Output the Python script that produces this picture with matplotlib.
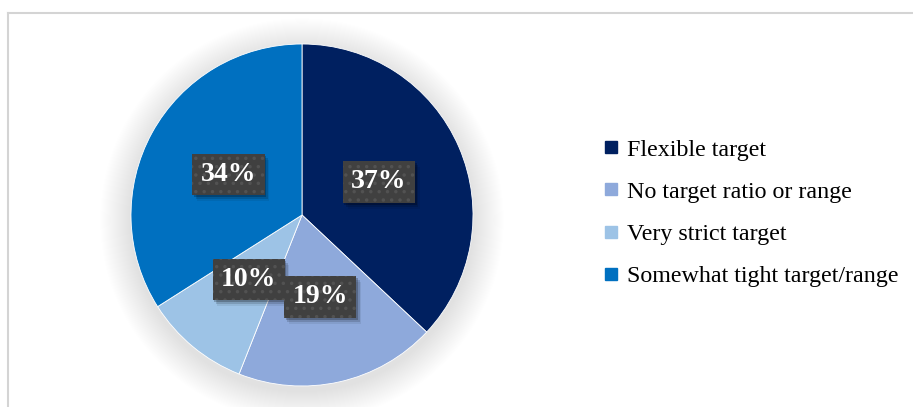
import matplotlib
matplotlib.use("Agg")
import numpy as np
import matplotlib.pyplot as plt
from matplotlib.lines import Line2D
from matplotlib.patches import Circle, Rectangle
from matplotlib.transforms import IdentityTransform

# survey shares of target types
labels = ["Flexible target", "No target ratio or range", "Very strict target",
          "Somewhat tight target/range"]
shares = [37, 19, 10, 34]
colors = ["#002060", "#8EA9DB", "#9DC3E6", "#0070C0"]

plt.rcParams["font.family"] = ["Liberation Serif", "DejaVu Serif"]
plt.rcParams["hatch.linewidth"] = 1.3

W, H = 913, 407
fig = plt.figure(figsize=(W / 100, H / 100), dpi=100)

# thin grey frame on the top and left edges
fig.add_artist(Line2D([8 / W, 1], [1 - 13 / H, 1 - 13 / H], color="#d4d4d4", lw=1.5))
fig.add_artist(Line2D([8 / W, 8 / W], [0, 1 - 13 / H], color="#d4d4d4", lw=1.5))

# pie axes: radius 171 px centred at (302, 215)
R = 171
cx, cy = 302, H - 215
lim = 1.3
side = 2 * R * lim
ax = fig.add_axes([(cx - side / 2) / W, (cy - side / 2) / H, side / W, side / H])

wedges, _ = ax.pie(shares, colors=colors, startangle=90, counterclock=False,
                   radius=1.0, wedgeprops=dict(linewidth=0.6, edgecolor="white"))
for w in wedges:
    w.set_zorder(2)
ax.set_xlim(-lim, lim)
ax.set_ylim(-lim, lim)
ax.set_aspect("equal")
ax.axis("off")

# soft glow behind the pie
n = 30
for i in range(n):
    r = 1.0 + 0.18 * (i + 1) / n
    ax.add_patch(Circle((0.0, -0.03), r, color="black", alpha=0.0045, lw=0, zorder=0))

# percentage labels in dark boxes
texts = []
ang = 90.0
for s in shares:
    span = s / sum(shares) * 360
    mid = np.deg2rad(ang - span / 2)
    ang -= span
    x, y = 0.49 * np.cos(mid), 0.49 * np.sin(mid)
    t = ax.text(x, y, f"{s}%", ha="center", va="center", color="white",
                fontsize=20, fontweight="bold", zorder=5,
                bbox=dict(boxstyle="square,pad=0.3", facecolor="#404040",
                          edgecolor="#525252", linewidth=0, hatch=".."))
    texts.append(t)

# drop shadows under the label boxes
fig.canvas.draw()
for t in texts:
    bb = t.get_bbox_patch().get_window_extent()
    for k, a in [(2, 0.22), (4, 0.14), (6, 0.07)]:
        ax.add_patch(Rectangle((bb.x0 + k * 0.8, bb.y0 - k), bb.width, bb.height,
                               transform=IdentityTransform(), facecolor="black",
                               alpha=a, lw=0, zorder=4))

handles = [Line2D([], [], marker="s", linestyle="none", markersize=8,
                  markerfacecolor=c, markeredgecolor=c) for c in colors]
fig.legend(handles, labels, loc="center left",
           bbox_to_anchor=(601 / W, 1 - 213 / H), frameon=False,
           fontsize=17.3, labelspacing=0.84, handletextpad=0.3,
           handlelength=0.8, borderpad=0, borderaxespad=0)

fig.savefig("out.png", dpi=100)
